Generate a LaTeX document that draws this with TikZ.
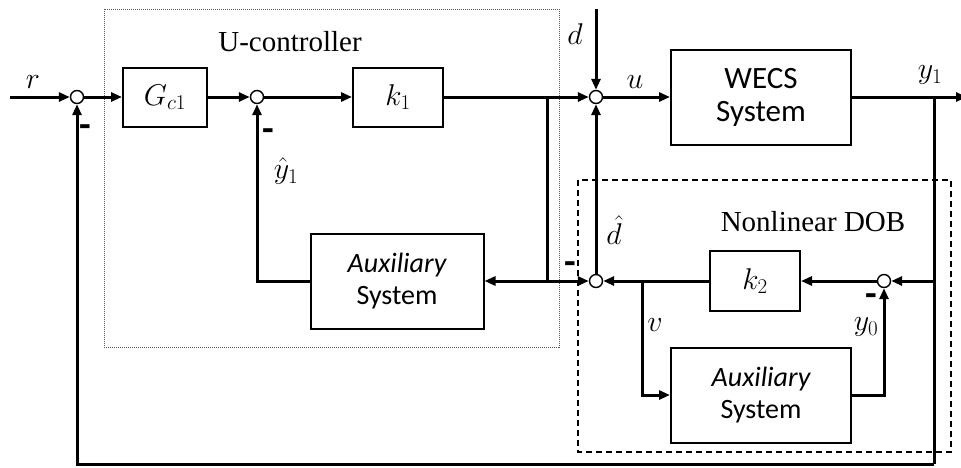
\RequirePackage{fix-cm}
\documentclass[tikz,border=0pt]{standalone}
\usepackage{fontspec}
\setmainfont{Liberation Serif}
\newfontfamily\calib{Carlito}
\usetikzlibrary{arrows.meta}
\begin{document}
\begin{tikzpicture}[x=1pt,y=-1pt,
  wire/.style={line width=3pt},
  arr/.style={wire,-{Triangle[length=11pt,width=9pt]}},
  blk/.style={draw,line width=2pt,inner sep=0pt,fill=white},
  sumj/.style={circle,draw,line width=1.4pt,minimum size=13pt,inner sep=0pt,fill=white},
  mlab/.style={font=\fontsize{30}{34}\selectfont,inner sep=0pt},
  sfbox/.style={blk,font=\calib\fontsize{28}{32}\selectfont,align=center},
  minus/.style={font=\calib\bfseries\fontsize{38}{40}\selectfont,inner sep=0pt},
  title/.style={font=\fontsize{29}{33}\selectfont,inner sep=0pt}]
\useasboundingbox (0,0) rectangle (961,467);

% region boxes
\draw[line width=0.8pt,gray!70!black,dash pattern=on 1pt off 1pt] (104,9) rectangle (559,347);
\draw[line width=1.2pt,dash pattern=on 6pt off 4pt] (578,180) rectangle (951,452);
\node[title] (tU) at (290,42) {U-controller};
\node[title] (tD) at (813,222) {Nonlinear DOB};

% blocks
\node[blk,minimum width=84pt,minimum height=59pt,mlab] (Gc1) at (165,97) {$G_{c1}$};
\node[blk,minimum width=90pt,minimum height=59pt,mlab] (k1) at (398,97) {$k_1$};
\node[sfbox,minimum width=180pt,minimum height=95pt,font=\calib\fontsize{31}{33}\selectfont] (wecs) at (761,97) {WECS\\System};
\node[sfbox,minimum width=173pt,minimum height=95pt] (aux1) at (397,281) {\itshape Auxiliary\\System};
\node[blk,minimum width=90pt,minimum height=60pt,mlab] (k2) at (755,281) {$k_2$};
\node[sfbox,minimum width=180pt,minimum height=95pt] (aux2) at (761,395) {\itshape Auxiliary\\System};

% summing junctions
\node[sumj] (s1) at (77,97) {};
\node[sumj] (s2) at (257,97) {};
\node[sumj] (s3) at (596,97) {};
\node[sumj] (s4) at (596,281) {};
\node[sumj] (s5) at (884,281) {};

% helper coordinates
\coordinate (rin) at (10,97);
\coordinate (dtop) at (596,9);
\coordinate (yout) at (967,97);
\coordinate (ybr) at (934,97);
\coordinate (ys5) at (934,281);
\coordinate (ybot) at (934,464);
\coordinate (br1) at (547,97);
\coordinate (br2) at (547,281);
\coordinate (vbr) at (642,281);

% connectors
\draw[arr] (rin) -- (s1);
\draw[arr] (s1) -- (Gc1);
\draw[arr] (Gc1) -- (s2);
\draw[arr] (s2) -- (k1);
\draw[arr] (k1) -- (s3);
\draw[arr] (dtop) -- (s3);
\draw[arr] (s3) -- (wecs);
\draw[arr] (wecs) -- (yout);
\draw[wire] (ybr) -- (ybot);
\draw[arr] (ybot) -| (s1);
\draw[arr] (ys5) -- (s5);
\draw[arr] (s5) -- (k2);
\draw[arr] (k2) -- (s4);
\draw[arr] (vbr) |- (aux2.west);
\draw[arr] (aux2.east) -| (s5);
\draw[arr] (s4) -- (s3);
\draw[wire] (br1) -- (br2);
\draw[arr] (br2) -- (s4);
\draw[arr] (br2) -- (aux1);
\draw[arr] (aux1.west) -| (s2);

% signal labels
\node[mlab] (lr) at (33,82) {$r$};
\node[mlab] (ld) at (575,34) {$d$};
\node[mlab] (lu) at (635,82) {$u$};
\node[mlab] (ly1) at (930,75) {$y_1$};
\node[mlab] (lyh) at (286,171) {$\hat{y}_1$};
\node[mlab] (ldh) at (614,230) {$\hat{d}$};
\node[mlab] (lv) at (655,325) {$v$};
\node[mlab] (ly0) at (866,327) {$y_0$};

% minus signs
\node[minus] (m1) at (85,131) {-};
\node[minus] (m2) at (268,135) {-};
\node[minus] (m4) at (570,268) {-};
\node[minus] (m5) at (871,300) {-};
\end{tikzpicture}
\end{document}
